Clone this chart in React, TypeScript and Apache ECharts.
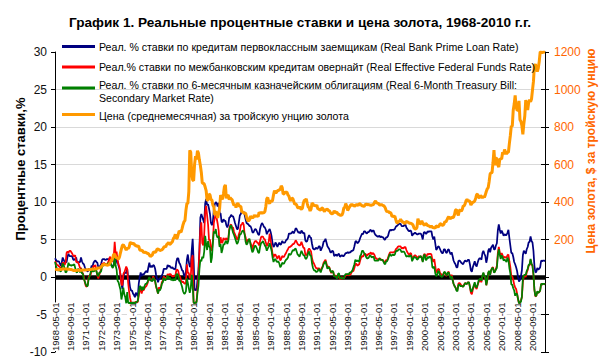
import React, { useEffect, useRef } from "react";
import * as echarts from "echarts";

const FONT = "'Liberation Sans', Arial, sans-serif";

const TITLE = "График 1. Реальные процентные ставки и цена золота, 1968-2010 г.г.";
const LEFT_NAME = "Процентные ставки,%";
const RIGHT_NAME = "Цена золота, $ за тройскую унцию";

const SERIES_NAMES = [
  "Реал. % ставки по кредитам первоклассным заемщикам (Real Bank Prime Loan Rate)",
  "Реал.% ставки по межбанковским кредитам овернайт (Real Effective Federal Funds Rate)",
  "Реал. % ставки по 6-месячным казначейским облигациям (Real 6-Month Treasury Bill:\nSecondary Market Rate)",
  "Цена (среднемесячная) за тройскую унцию золота",
];
const SERIES_COLORS = ["#000080", "#FF0000", "#008000", "#FF9900"];

// Monthly categories 1968-05 .. 2010-10
const START_YEAR = 1968;
const START_MONTH = 5;
const MONTH_COUNT = 510;
const months: string[] = [];
for (let i = 0; i < MONTH_COUNT; i++) {
  const t = START_YEAR * 12 + (START_MONTH - 1) + i;
  const y = Math.floor(t / 12);
  const m = (t % 12) + 1;
  months.push(`${y}-${String(m).padStart(2, "0")}-01`);
}

// Real Bank Prime Loan Rate, %
const primeReal = [
  2.5, 2.3, 2.1, 2.1, 2.1, 1.8, 1.5, 1.9,
  2.6, 2.3, 2.0, 2.0, 2.0, 2.7, 3.1, 2.8, 2.8, 2.8, 2.7, 2.3,
  2.3, 2.4, 2.6, 1.9, 2.0, 2.0, 2.0, 2.6, 2.1, 1.8, 1.7, 1.3,
  1.0, 0.9, 0.7, 1.1, 1.1, 0.9, 1.5, 1.4, 1.9, 2.1, 2.2, 2.0,
  1.9, 1.3, 1.3, 1.5, 1.8, 2.3, 2.4, 2.4, 2.3, 2.3, 2.4, 2.4,
  2.4, 2.1, 1.7, 1.5, 1.5, 1.6, 2.6, 1.8, 2.5, 2.1, 1.5, 1.1,
  0.3, -0.8, -1.6, -0.1, 0.6, 0.6, 0.5, 1.1, -0.1, -0.4, -1.4, -1.8,
  -1.8, -2.2, -2.4, -2.7, -2.1, -2.3, -2.6, -0.9, 0.0, 0.6, 0.1, 0.4,
  0.3, 0.5, 0.7, 0.8, 0.6, 1.3, 1.9, 1.3, 1.5, 1.3, 1.6, 1.5,
  1.1, 0.3, -0.2, -0.7, -0.3, -0.2, 0.0, 0.2, 0.5, 1.1, 1.1, 1.1,
  1.1, 1.6, 1.4, 1.5, 1.3, 1.2, 1.3, 1.1, 1.1, 1.0, 2.0, 2.5,
  2.5, 1.9, 1.7, 1.3, 0.9, 0.8, 0.2, 0.1, 0.7, 2.3, 3.0, 2.0,
  1.4, 1.4, 3.5, 5.1, 2.2, -1.8, -1.6, -1.8, -0.4, 1.0, 3.5, 7.9,
  8.4, 8.0, 7.6, 7.2, 9.8, 10.4, 9.6, 9.7, 9.1, 8.4, 7.2, 6.9,
  7.4, 9.0, 9.7, 10.0, 9.8, 9.4, 9.9, 8.5, 8.5, 7.4, 7.3, 7.7,
  7.5, 7.5, 6.9, 6.6, 7.0, 7.9, 8.0, 8.3, 8.1, 8.1, 7.7, 7.2,
  6.8, 6.4, 6.4, 7.3, 8.2, 8.4, 8.8, 8.7, 8.7, 8.3, 7.7, 7.2,
  7.1, 7.0, 6.8, 6.8, 6.5, 6.0, 5.9, 6.2, 6.4, 6.3, 6.0, 5.7,
  5.6, 6.4, 6.9, 7.2, 7.0, 6.7, 6.6, 6.3, 5.7, 6.0, 6.2, 6.4,
  6.0, 5.4, 4.5, 4.0, 4.2, 4.6, 4.4, 4.0, 4.3, 4.6, 4.3, 4.4,
  4.8, 4.6, 4.6, 4.6, 4.9, 5.0, 5.2, 5.8, 5.8, 5.8, 5.9, 6.1,
  5.8, 6.1, 6.5, 6.4, 6.1, 5.9, 6.0, 5.8, 6.2, 6.0, 5.8, 5.9,
  4.9, 4.7, 4.8, 5.3, 5.6, 5.3, 5.2, 4.4, 3.8, 3.7, 3.7, 3.9,
  3.8, 3.8, 4.1, 4.1, 3.5, 3.8, 4.1, 4.7, 4.8, 5.1, 4.6, 4.1,
  3.9, 3.7, 3.3, 3.3, 3.5, 3.4, 2.8, 2.9, 3.0, 2.8, 3.0, 3.1,
  2.7, 2.8, 2.9, 2.8, 2.8, 3.0, 3.2, 3.2, 3.3, 3.2, 3.3, 3.3,
  3.5, 3.5, 3.6, 4.1, 4.7, 4.8, 4.5, 4.6, 4.8, 5.2, 5.5, 5.8,
  5.7, 6.1, 6.1, 5.9, 5.8, 6.0, 6.0, 6.2, 6.3, 6.0, 6.2, 6.2,
  5.8, 5.6, 5.5, 5.4, 5.4, 5.5, 5.3, 5.4, 5.3, 5.3, 5.0, 5.0,
  5.3, 5.3, 5.5, 6.0, 6.3, 6.2, 6.3, 6.3, 6.3, 6.4, 6.7, 6.8,
  6.9, 7.1, 7.1, 7.1, 6.8, 6.8, 6.8, 6.9, 7.0, 6.6, 6.4, 6.2,
  6.1, 6.2, 6.1, 5.5, 5.7, 5.8, 5.9, 5.8, 5.7, 5.7, 5.8, 5.8,
  5.8, 5.5, 5.0, 5.9, 6.0, 5.8, 5.8, 6.1, 6.0, 6.1, 6.1, 6.1,
  5.4, 5.0, 5.4, 4.5, 3.6, 3.8, 4.1, 4.0, 3.7, 3.4, 3.2, 3.2,
  3.7, 3.7, 3.3, 3.2, 3.6, 3.7, 3.3, 3.0, 3.3, 2.8, 2.2, 1.9,
  1.7, 1.3, 1.3, 2.1, 2.2, 2.1, 1.9, 1.8, 1.7, 2.0, 2.2, 2.1,
  2.1, 2.3, 2.3, 1.7, 0.9, 0.7, 1.3, 1.7, 2.1, 1.6, 1.4, 1.9,
  2.3, 2.5, 2.5, 2.3, 3.2, 3.5, 3.1, 2.8, 1.9, 2.5, 3.5, 3.8,
  3.3, 3.9, 4.1, 4.3, 3.7, 3.7, 4.2, 4.5, 6.2, 7.0, 6.3, 5.8,
  6.2, 5.9, 5.5, 5.7, 5.6, 5.6, 5.9, 6.3, 5.2, 4.2, 3.2, 3.2,
  2.7, 2.0, 1.7, 1.3, 0.8, 0.0, -0.6, -0.4, 0.1, 0.9, 2.9, 3.5,
  3.3, 3.1, 3.7, 4.0, 4.6, 4.7, 5.4, 4.8, 4.6, 3.5, 1.5, 0.6,
  0.7, 1.2, 1.0, 1.1, 1.3, 2.2, 2.1, 2.2, 2.2, 2.1,
];

// Real Effective Federal Funds Rate, %
const fedFundsReal = [
  2.1, 1.9, 1.6, 1.6, 1.4, 1.4, 1.0, 1.3,
  1.9, 1.9, 1.6, 1.9, 3.2, 3.4, 3.2, 3.5, 3.5, 3.3, 3.1, 2.8,
  2.8, 2.9, 2.0, 2.0, 2.0, 1.6, 1.2, 1.2, 0.6, 0.5, 0.0, -0.7,
  -1.2, -1.3, -1.0, 0.0, 0.2, 0.3, 0.9, 1.0, 1.5, 1.4, 1.6, 0.8,
  0.2, -0.2, 0.3, 0.7, 1.1, 1.8, 1.7, 1.9, 1.7, 1.6, 1.7, 1.9,
  2.3, 2.7, 2.5, 2.0, 2.3, 2.6, 4.7, 3.1, 3.4, 2.2, 1.7, 1.3,
  0.3, -1.0, -1.1, 0.4, 0.6, 1.0, 1.4, 1.1, -0.8, -2.0, -2.8, -3.4,
  -3.5, -3.4, -3.5, -3.4, -3.3, -3.4, -3.3, -2.5, -1.7, -1.6, -2.2, -1.7,
  -1.8, -1.5, -1.3, -1.2, -0.9, -0.4, -0.1, -0.4, -0.3, -0.5, 0.1, -0.3,
  -0.6, -1.3, -1.7, -2.2, -1.4, -1.5, -1.4, -0.7, -0.5, 0.1, -0.2, -0.1,
  -0.1, 0.4, 0.2, 0.4, 0.4, 0.2, 0.1, 0.1, 0.2, 0.1, 0.9, 1.0,
  0.8, 0.2, 0.0, -0.5, -0.7, -0.6, -0.8, -0.9, -0.8, 1.7, 0.6, 0.5,
  -0.1, -0.1, 2.4, 2.9, -3.4, -3.5, -3.4, -3.3, -1.7, 0.0, 3.3, 6.4,
  7.3, 4.5, 4.2, 5.7, 8.7, 9.5, 8.2, 7.0, 4.9, 5.0, 3.7, 3.5,
  4.8, 7.2, 7.9, 8.4, 7.8, 7.1, 6.2, 4.2, 5.3, 4.6, 4.6, 5.2,
  5.0, 5.0, 5.2, 4.9, 5.1, 6.4, 6.9, 7.0, 6.6, 6.6, 6.0, 5.7,
  5.4, 5.0, 5.1, 5.7, 6.1, 6.9, 7.0, 7.3, 7.0, 5.7, 5.3, 4.5,
  4.9, 5.0, 4.9, 4.6, 4.2, 3.7, 4.3, 4.6, 4.8, 4.8, 4.6, 4.5,
  4.2, 4.8, 5.3, 5.4, 5.4, 5.1, 5.0, 4.6, 4.1, 4.4, 4.7, 5.8,
  4.9, 4.0, 3.1, 2.6, 3.0, 3.0, 2.7, 2.4, 2.8, 2.8, 2.2, 2.4,
  2.8, 2.7, 2.7, 3.0, 3.2, 3.5, 3.7, 4.0, 4.0, 4.1, 4.2, 4.4,
  4.4, 4.6, 4.9, 4.7, 4.4, 4.3, 4.2, 4.3, 4.7, 4.3, 3.9, 3.9,
  3.0, 2.9, 3.1, 3.6, 3.8, 3.6, 3.4, 2.5, 2.0, 1.8, 1.5, 1.2,
  1.2, 1.0, 1.2, 1.0, 0.8, 1.2, 1.4, 1.9, 2.1, 2.3, 1.8, 1.3,
  1.4, 1.3, 0.8, 0.5, 0.8, 0.7, 0.1, 0.2, 0.2, -0.1, 0.1, 0.0,
  -0.3, -0.2, 0.0, -0.2, -0.2, 0.0, 0.3, 0.2, 0.4, 0.2, 0.3, 0.3,
  0.6, 0.8, 0.8, 1.2, 1.7, 1.8, 1.5, 1.6, 1.7, 2.2, 2.6, 2.8,
  2.7, 3.0, 3.1, 3.0, 2.8, 3.0, 3.1, 3.1, 3.3, 3.0, 3.2, 3.1,
  2.9, 2.5, 2.5, 2.3, 2.3, 2.5, 2.4, 2.3, 2.3, 2.2, 2.0, 2.0,
  2.3, 2.2, 2.6, 3.0, 3.3, 3.3, 3.3, 3.3, 3.3, 3.4, 3.7, 3.8,
  4.0, 4.1, 4.1, 4.1, 3.8, 3.9, 3.8, 4.0, 4.0, 3.6, 3.3, 3.1,
  2.9, 3.2, 3.1, 2.4, 2.6, 2.8, 2.9, 2.8, 2.6, 2.6, 2.8, 2.6,
  2.8, 2.5, 2.1, 2.9, 3.1, 2.8, 2.8, 3.1, 3.0, 3.1, 3.1, 3.0,
  2.3, 2.0, 2.4, 1.5, 0.6, 0.8, 1.1, 1.0, 0.5, 0.4, 0.2, 0.2,
  0.6, 0.6, 0.2, 0.2, 0.6, 0.7, 0.2, -0.1, 0.3, -0.3, -0.9, -1.2,
  -1.4, -1.7, -1.8, -0.9, -0.8, -0.9, -1.1, -1.2, -1.3, -1.0, -0.8, -0.9,
  -0.9, -0.7, -0.7, -1.3, -2.1, -2.3, -1.7, -1.3, -0.9, -1.4, -1.6, -1.1,
  -0.7, -0.5, -0.5, -0.7, 0.2, 0.5, 0.1, -0.1, -1.1, -0.5, 0.5, 0.8,
  0.3, 0.9, 1.2, 1.3, 0.7, 0.7, 1.1, 1.5, 3.2, 4.0, 3.3, 2.7,
  3.2, 2.9, 2.5, 2.7, 2.6, 2.6, 2.9, 3.0, 2.1, 1.3, 0.2, 0.1,
  -0.4, -1.0, -1.4, -1.6, -2.2, -3.0, -3.5, -3.4, -3.1, -2.7, -0.7, 0.1,
  0.2, 0.0, 0.6, 0.9, 1.5, 1.6, 2.3, 1.7, 1.5, 0.3, -1.7, -2.6,
  -2.5, -2.0, -2.1, -2.0, -1.8, -0.9, -1.0, -0.9, -0.9, -1.0,
];

// Real 6-Month Treasury Bill rate, %
const tbillReal = [
  2.0, 1.5, 1.1, 0.9, 0.9, 0.9, 0.7, 1.3,
  1.8, 1.6, 1.1, 0.6, 0.7, 1.2, 1.9, 1.6, 1.6, 1.5, 1.6, 1.6,
  1.7, 1.2, 0.7, 0.6, 1.1, 0.9, 0.6, 1.1, 0.5, 0.4, -0.3, -0.6,
  -1.0, -1.2, -1.2, -0.2, 0.1, 0.6, 1.2, 0.7, 0.8, 0.8, 1.1, 0.8,
  0.3, 0.1, 0.6, 0.6, 0.8, 1.6, 1.5, 1.6, 1.8, 1.6, 1.6, 1.8,
  1.9, 1.8, 1.8, 1.4, 1.2, 1.5, 2.8, 1.5, 1.0, -0.5, -0.7, -1.2,
  -1.7, -3.0, -2.3, -1.4, -2.3, -2.7, -3.5, -2.0, -3.4, -3.5, -3.4, -3.5,
  -3.4, -3.5, -3.4, -3.5, -3.4, -3.3, -3.2, -2.1, -1.2, -1.3, -1.8, -1.3,
  -1.7, -1.2, -0.9, -0.9, -0.7, -0.3, 0.0, -0.5, -0.4, -0.6, -0.1, -0.4,
  -0.5, -1.2, -1.7, -2.2, -1.7, -1.8, -1.5, -0.9, -0.7, -0.1, -0.4, -0.4,
  -0.2, 0.2, -0.2, 0.0, -0.3, -0.4, -0.3, -0.5, -0.2, -0.5, 0.4, 0.4,
  0.2, -0.5, -0.5, -0.9, -1.3, -1.9, -2.2, -2.2, -1.9, -0.2, -0.8, -1.5,
  -2.1, -1.5, 0.3, -1.1, -3.4, -3.5, -3.4, -3.4, -2.1, -1.2, 1.0, 2.3,
  2.1, 2.7, 2.5, 3.4, 5.5, 4.4, 3.6, 4.8, 4.1, 3.9, 1.9, 2.6,
  4.5, 6.1, 5.8, 6.4, 5.5, 5.2, 5.5, 4.0, 4.4, 3.2, 3.7, 4.4,
  4.3, 4.7, 4.8, 4.4, 4.8, 6.2, 6.7, 6.9, 6.4, 5.9, 5.6, 5.2,
  4.8, 4.4, 4.6, 5.1, 5.7, 5.7, 6.0, 6.2, 6.1, 5.7, 4.7, 4.3,
  4.5, 4.9, 5.1, 4.4, 3.8, 3.3, 3.5, 4.0, 4.2, 4.0, 3.7, 3.3,
  3.2, 4.0, 4.5, 4.6, 4.8, 4.5, 4.2, 4.0, 3.5, 3.8, 4.1, 4.5,
  4.0, 3.5, 2.6, 2.0, 2.3, 2.4, 2.1, 2.0, 2.1, 1.8, 1.3, 1.5,
  1.9, 1.8, 1.8, 2.1, 2.3, 2.4, 2.6, 3.1, 3.0, 3.0, 3.3, 3.6,
  3.5, 3.7, 3.8, 3.4, 3.0, 2.9, 2.7, 3.1, 3.5, 3.2, 2.9, 2.9,
  2.5, 2.4, 2.7, 3.2, 3.4, 2.9, 2.8, 1.8, 1.2, 0.9, 0.9, 0.7,
  0.7, 0.8, 1.1, 0.9, 0.6, 1.0, 1.3, 1.7, 1.9, 2.1, 1.6, 1.1,
  1.3, 1.2, 0.9, 0.6, 0.8, 0.7, 0.1, 0.1, 0.0, -0.2, 0.4, 0.5,
  -0.2, -0.1, -0.1, -0.2, -0.2, 0.2, 0.4, 0.4, 0.4, 0.3, 0.6, 0.6,
  0.7, 0.9, 1.3, 1.7, 2.3, 2.1, 2.2, 2.1, 2.1, 2.8, 3.0, 3.5,
  3.5, 3.2, 3.0, 2.7, 2.5, 2.5, 2.6, 2.9, 2.8, 2.6, 2.7, 2.7,
  2.2, 2.2, 2.2, 2.2, 2.2, 2.5, 2.3, 2.3, 2.3, 2.1, 1.8, 1.7,
  2.1, 2.1, 2.4, 2.8, 3.1, 2.8, 2.9, 3.0, 2.9, 3.0, 3.4, 3.5,
  3.5, 3.7, 3.7, 3.6, 3.3, 3.4, 3.4, 3.3, 3.0, 2.7, 2.8, 2.8,
  2.7, 2.9, 2.8, 2.1, 2.4, 2.7, 2.6, 2.6, 2.3, 2.4, 2.6, 2.7,
  2.8, 2.5, 2.0, 2.8, 3.0, 2.3, 2.3, 2.7, 2.5, 2.7, 2.7, 2.4,
  1.3, 1.2, 1.4, 0.5, 0.1, 0.3, 0.8, 0.7, 0.2, 0.1, 0.0, 0.2,
  0.6, 0.7, 0.4, 0.2, 0.6, 0.6, 0.2, -0.2, 0.1, -0.4, -0.9, -1.2,
  -1.4, -1.8, -1.9, -1.1, -1.0, -1.2, -1.2, -1.2, -1.3, -1.1, -0.8, -0.9,
  -0.9, -0.7, -0.7, -1.3, -1.9, -1.9, -1.5, -1.1, -0.7, -1.3, -1.4, -1.0,
  -0.5, -0.3, -0.2, -0.5, 0.2, 0.6, 0.1, 0.0, -1.1, -0.4, 0.6, 0.8,
  0.3, 0.9, 1.2, 1.2, 0.6, 0.7, 1.0, 1.2, 2.8, 3.7, 3.0, 2.4,
  2.9, 2.6, 2.2, 2.3, 2.2, 2.0, 2.6, 2.3, 1.2, 0.5, -1.0, -1.0,
  -1.5, -1.8, -2.5, -2.2, -2.3, -2.9, -3.5, -3.4, -3.3, -2.6, -0.2, 0.2,
  0.3, 0.3, 0.8, 1.1, 1.6, 1.7, 2.4, 1.8, 1.5, 0.4, -1.7, -2.5,
  -2.5, -1.9, -2.1, -2.0, -1.8, -0.9, -1.0, -0.9, -0.9, -1.0,
];

// Gold, monthly average, $ per troy ounce
const goldPrice = [
  41.6, 41.1, 39.5, 39.2, 39.9, 39.6, 40.0, 41.1,
  42.4, 42.9, 43.1, 43.3, 43.5, 41.3, 41.9, 41.1, 40.6, 40.2, 37.4, 35.2,
  34.9, 35.0, 35.1, 35.6, 36.0, 35.4, 35.3, 35.4, 36.2, 37.5, 37.4, 37.4,
  37.9, 38.7, 38.9, 39.0, 40.5, 40.1, 40.9, 42.7, 42.0, 42.5, 42.9, 43.5,
  45.8, 48.3, 48.3, 49.0, 54.6, 62.1, 65.7, 67.0, 65.5, 64.9, 62.9, 63.9,
  65.1, 74.2, 84.4, 90.5, 102.0, 122.5, 120.2, 106.8, 102.9, 100.1, 94.8, 106.7,
  129.2, 150.2, 168.4, 172.2, 163.3, 154.1, 143.0, 154.6, 151.8, 158.8, 181.7, 183.9,
  175.8, 179.6, 178.2, 170.0, 167.3, 164.2, 165.1, 163.0, 144.1, 142.8, 142.2, 139.3,
  131.6, 131.3, 132.6, 128.2, 125.6, 125.1, 117.6, 109.0, 114.0, 116.0, 130.4, 133.9,
  132.3, 136.3, 148.2, 149.1, 146.6, 140.8, 143.4, 144.8, 149.7, 159.0, 162.5, 160.5,
  173.1, 178.2, 183.7, 175.1, 176.3, 183.7, 188.7, 206.1, 212.5, 227.4, 206.0, 207.8,
  227.3, 245.7, 242.1, 239.2, 257.6, 279.1, 294.7, 300.8, 355.2, 391.7, 392.5, 455.1,
  675.3, 665.3, 553.6, 517.4, 513.8, 600.7, 644.3, 627.2, 673.6, 661.2, 623.5, 594.9,
  557.4, 500.2, 499.8, 495.8, 479.7, 460.8, 409.3, 410.1, 443.2, 437.8, 413.4, 410.1,
  384.1, 374.2, 330.2, 350.5, 333.9, 314.9, 339.1, 364.9, 436.9, 422.2, 414.1, 444.3,
  481.3, 491.5, 419.8, 432.8, 437.5, 412.6, 422.5, 416.0, 412.1, 394.1, 381.6, 388.0,
  370.9, 386.3, 394.2, 381.6, 377.7, 377.9, 347.9, 347.7, 341.1, 340.2, 341.2, 320.2,
  302.8, 299.1, 304.0, 324.9, 316.6, 316.8, 317.3, 329.9, 323.5, 325.9, 325.3, 322.2,
  345.4, 339.0, 345.7, 340.4, 342.6, 342.7, 348.6, 376.5, 417.7, 423.3, 398.2, 391.3,
  408.3, 401.1, 408.9, 438.4, 460.2, 450.0, 450.9, 461.0, 460.2, 465.4, 466.7, 486.3,
  477.7, 442.1, 443.6, 452.1, 451.6, 451.5, 437.4, 431.4, 413.5, 406.2, 419.8, 418.6,
  404.0, 387.8, 390.2, 384.2, 371.1, 367.6, 375.0, 365.4, 362.0, 366.9, 394.3, 409.4,
  410.1, 416.8, 393.1, 374.3, 369.3, 352.3, 362.5, 395.0, 389.3, 380.7, 381.4, 378.2,
  383.6, 363.8, 363.3, 358.4, 356.8, 366.7, 367.7, 356.5, 348.8, 358.7, 359.7, 361.1,
  354.5, 353.9, 344.3, 338.6, 337.2, 340.8, 353.1, 343.2, 345.4, 344.4, 335.0, 334.7,
  329.0, 329.3, 330.1, 342.2, 367.1, 371.9, 392.0, 378.9, 354.9, 364.2, 373.8, 383.3,
  387.0, 382.0, 384.0, 377.3, 381.4, 385.6, 385.5, 380.4, 391.6, 389.8, 384.4, 379.3,
  378.6, 376.5, 382.1, 391.0, 385.2, 387.6, 386.2, 383.7, 383.1, 383.1, 385.5, 387.4,
  399.5, 404.8, 396.2, 392.9, 391.9, 385.3, 383.5, 387.5, 383.1, 381.1, 377.9, 369.2,
  354.9, 346.6, 351.8, 344.5, 343.8, 340.8, 324.1, 324.0, 322.8, 324.9, 306.0, 288.7,
  289.1, 297.5, 295.9, 308.4, 299.1, 292.3, 292.9, 284.1, 289.0, 295.9, 294.1, 291.6,
  287.1, 287.3, 285.9, 282.6, 276.4, 261.3, 256.1, 256.7, 264.7, 310.7, 293.2, 283.1,
  284.6, 300.0, 286.4, 280.0, 275.3, 285.7, 281.6, 274.5, 273.7, 270.0, 266.0, 271.5,
  265.5, 261.9, 263.0, 260.5, 272.4, 270.2, 267.5, 272.4, 283.4, 283.1, 276.2, 275.9,
  281.7, 295.5, 294.0, 302.7, 314.5, 321.2, 313.3, 310.3, 319.2, 316.6, 319.2, 333.4,
  356.9, 359.0, 340.6, 328.2, 355.7, 356.4, 351.0, 359.8, 378.9, 378.9, 389.9, 407.6,
  414.0, 405.3, 406.7, 403.0, 383.5, 392.4, 398.1, 400.5, 405.3, 420.5, 439.4, 442.1,
  424.0, 423.4, 434.2, 429.2, 421.9, 430.7, 424.5, 437.9, 456.0, 469.9, 476.7, 509.8,
  549.9, 555.0, 557.1, 610.6, 676.5, 596.2, 633.8, 632.6, 598.2, 585.8, 627.8, 629.8,
  631.2, 664.8, 654.9, 679.4, 666.9, 655.5, 665.3, 665.4, 712.7, 754.6, 806.3, 803.2,
  889.6, 922.3, 968.4, 909.7, 888.7, 889.5, 939.8, 839.0, 829.9, 806.6, 760.9, 816.1,
  858.7, 943.2, 924.3, 890.2, 928.6, 945.7, 934.2, 949.4, 996.6, 1043.2, 1127.0, 1134.7,
  1118.0, 1095.4, 1113.3, 1148.7, 1200, 1200, 1195, 1200, 1200, 1200,
];

const LEGEND_ICON_Y = [46.5, 67, 88, 114.5];
const LEGEND_TEXT_Y = [47, 67, 78, 115.5];

export default function App() {
  const ref = useRef<HTMLDivElement>(null);

  useEffect(() => {
    document.body.style.margin = "0";
    const chart = echarts.init(ref.current as HTMLDivElement, undefined, { renderer: "svg" });

    const legendGraphics: any[] = [];
    SERIES_NAMES.forEach((name, i) => {
      legendGraphics.push({
        type: "line",
        shape: { x1: 62, y1: LEGEND_ICON_Y[i], x2: 95, y2: LEGEND_ICON_Y[i] },
        style: { stroke: SERIES_COLORS[i], lineWidth: 3 },
        z: 10,
      });
      const multi = name.indexOf("\n") >= 0;
      legendGraphics.push({
        type: "text",
        x: 99,
        y: LEGEND_TEXT_Y[i],
        z: 10,
        style: {
          text: name,
          fontFamily: FONT,
          fontSize: 10.6,
          fill: "#000",
          align: "left",
          verticalAlign: multi ? "top" : "middle",
          lineHeight: 13.4,
        },
      });
    });

    const option: any = {
      animation: false,
      backgroundColor: "#fff",
      title: {
        text: TITLE,
        left: "center",
        top: 10,
        textStyle: { fontFamily: FONT, fontSize: 13.6, fontWeight: "bold", color: "#000" },
      },
      grid: { left: 55, right: 55, top: 52, bottom: 8 },
      xAxis: {
        type: "category",
        data: months,
        boundaryGap: false,
        z: 1,
        axisLine: { show: false },
        axisTick: { show: false },
        splitLine: { show: false },
        axisLabel: {
          inside: true,
          rotate: 90,
          interval: 15,
          margin: 1,
          fontFamily: FONT,
          fontSize: 9.5,
          color: "#111",
          backgroundColor: "#fff",
        },
      },
      yAxis: [
        {
          type: "value",
          position: "left",
          min: -10,
          max: 30,
          interval: 5,
          axisLine: { show: true, lineStyle: { color: "#000", width: 1 } },
          axisTick: { show: true, length: 4, lineStyle: { color: "#000" } },
          axisLabel: { fontFamily: FONT, fontSize: 12, color: "#111", margin: 8 },
          splitLine: {
            show: true,
            showMinLine: false,
            showMaxLine: false,
            lineStyle: { color: "#d9d9d9", width: 1 },
          },
        },
        {
          type: "value",
          position: "right",
          min: -400,
          max: 1200,
          interval: 200,
          axisLine: { show: true, lineStyle: { color: "#000", width: 1 } },
          axisTick: { show: true, length: 4, lineStyle: { color: "#000" } },
          axisLabel: {
            fontFamily: FONT,
            fontSize: 12,
            color: "#FF6600",
            margin: 9,
            formatter: (v: number) => (v > 0 ? String(v) : ""),
          },
          splitLine: { show: false },
        },
        {
          // inner half of the crossing ticks on the right axis
          type: "value",
          position: "right",
          min: -400,
          max: 1200,
          interval: 200,
          axisLine: { show: false },
          axisTick: { show: true, inside: true, length: 4, lineStyle: { color: "#000" } },
          axisLabel: { show: false },
          splitLine: { show: false },
        },
      ],
      series: [
        {
          name: SERIES_NAMES[0],
          type: "line",
          data: primeReal,
          yAxisIndex: 0,
          symbol: "none",
          z: 3,
          lineStyle: { color: SERIES_COLORS[0], width: 1.75 },
          markLine: {
            silent: true,
            z: 1,
            symbol: ["none", "none"],
            label: { show: false },
            lineStyle: { color: "#000", width: 4.5, type: "solid" },
            data: [{ yAxis: 0 }],
          },
        },
        {
          name: SERIES_NAMES[1],
          type: "line",
          data: fedFundsReal,
          yAxisIndex: 0,
          symbol: "none",
          z: 4,
          lineStyle: { color: SERIES_COLORS[1], width: 1.75 },
        },
        {
          name: SERIES_NAMES[2],
          type: "line",
          data: tbillReal,
          yAxisIndex: 0,
          symbol: "none",
          z: 5,
          lineStyle: { color: SERIES_COLORS[2], width: 1.75 },
        },
        {
          name: SERIES_NAMES[3],
          type: "line",
          data: goldPrice,
          yAxisIndex: 1,
          symbol: "none",
          z: 6,
          lineStyle: { color: SERIES_COLORS[3], width: 3 },
        },
      ],
      graphic: [
        ...legendGraphics,
        {
          type: "text",
          x: 20,
          y: 169,
          rotation: Math.PI / 2,
          style: {
            text: LEFT_NAME,
            fontFamily: FONT,
            fontSize: 13,
            fontWeight: "bold",
            fill: "#000",
            align: "center",
            verticalAlign: "middle",
          },
        },
        {
          type: "text",
          x: 591,
          y: 151,
          rotation: Math.PI / 2,
          style: {
            text: RIGHT_NAME,
            fontFamily: FONT,
            fontSize: 12,
            fontWeight: "bold",
            fill: "#FF6600",
            align: "center",
            verticalAlign: "middle",
          },
        },
      ],
    };

    chart.setOption(option);
    return () => chart.dispose();
  }, []);

  return (
    <div
      ref={ref}
      style={{ position: "fixed", left: 0, top: 0, width: 600, height: 360, background: "#fff" }}
    />
  );
}
